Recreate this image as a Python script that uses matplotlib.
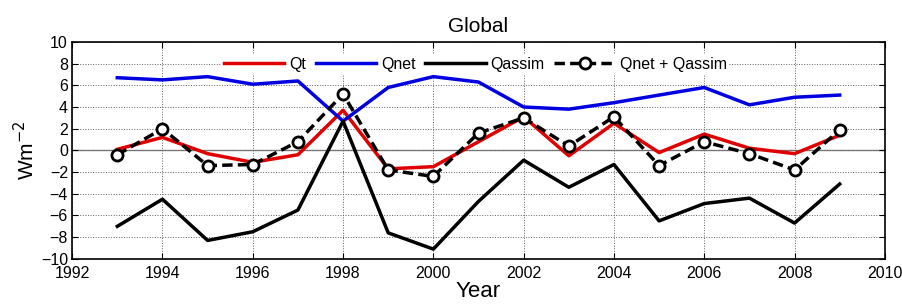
import matplotlib
matplotlib.use('Agg')
import matplotlib.pyplot as plt
import numpy as np

plt.rcParams['font.family'] = ['Liberation Sans', 'DejaVu Sans']

# Data
years = np.arange(1993, 2010)
qt = [0.1, 1.2, -0.3, -1.1, -0.4, 3.7, -1.7, -1.5, 0.8, 3.1, -0.5, 2.5, -0.2, 1.5, 0.2, -0.3, 1.4]
qnet = [6.7, 6.5, 6.8, 6.1, 6.4, 2.7, 5.8, 6.8, 6.3, 4.0, 3.8, 4.4, 5.1, 5.8, 4.2, 4.9, 5.1]
qassim = [-7.0, -4.5, -8.3, -7.5, -5.5, 2.7, -7.6, -9.1, -4.7, -0.9, -3.4, -1.3, -6.5, -4.9, -4.4, -6.7, -3.1]
qsum = [-0.4, 2.0, -1.4, -1.3, 0.8, 5.2, -1.8, -2.4, 1.6, 3.0, 0.4, 3.1, -1.4, 0.8, -0.3, -1.8, 1.9]

fig = plt.figure(figsize=(9.02, 3.06), dpi=100)
ax = fig.add_axes([0.080, 0.154, 0.901, 0.709])

ax.axhline(0, color='#808080', lw=1.0, zorder=1)
ax.plot(years, qt, color='#e00000', lw=2.5, label='Qt', zorder=3)
ax.plot(years, qnet, color='#0000e0', lw=2.5, label='Qnet', zorder=3)
ax.plot(years, qassim, color='black', lw=2.5, label='Qassim', zorder=3)
ax.plot(years, qsum, color='black', lw=2.5, ls='--', dashes=(3, 1.5), marker='o',
        ms=8, mfc='white', mec='black', mew=2, label='Qnet + Qassim', zorder=4)

ax.set_xlim(1992, 2010)
ax.set_ylim(-10, 10)
ax.set_xticks(np.arange(1992, 2011, 2))
ax.set_yticks(np.arange(-10, 11, 2))
ax.grid(True, ls=':', color='#606060', lw=0.7)
ax.tick_params(labelsize=11.5, direction='in', length=4, top=True, right=True)
ax.tick_params(axis='x', pad=5)
ax.tick_params(axis='y', pad=3)
for s in ax.spines.values():
    s.set_linewidth(1.2)

ax.set_title('Global', fontsize=15, pad=7)
ax.set_xlabel('Year', fontsize=16, labelpad=0)
ax.set_ylabel('Wm$^{-2}$', fontsize=15, labelpad=2)

leg = ax.legend(loc='upper center', bbox_to_anchor=(0.496, 0.98), ncol=4, frameon=True,
                fontsize=11.5, handlelength=3.8, columnspacing=0.6, handletextpad=0.3,
                borderpad=0.15, fancybox=False)
leg.get_frame().set_edgecolor('none')
leg.get_frame().set_facecolor('white')
leg.get_frame().set_alpha(1)

fig.savefig('out.png', dpi=100)
